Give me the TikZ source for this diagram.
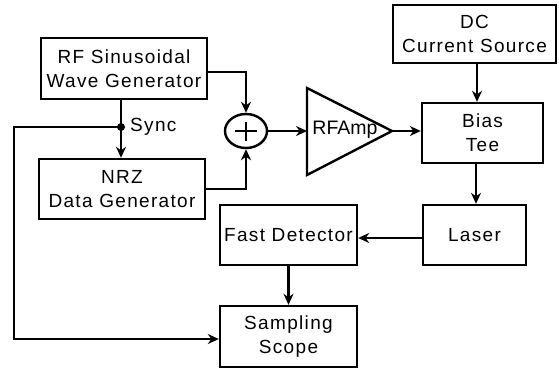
\documentclass[tikz,border=0pt]{standalone}
\usepackage{fontspec}
\setmainfont{Liberation Sans}
\newfontfamily\labfont[LetterSpace=7]{Liberation Sans}
\usetikzlibrary{arrows.meta,calc,shapes.geometric}
\tikzset{
  box/.style={draw, line width=2.4pt, rectangle, inner sep=0pt, align=center,
    font=\labfont\fontsize{19}{24}\selectfont},
  wire/.style={line width=2.3pt},
  arr/.style={wire, -{Stealth[length=11pt,width=10pt]}},
}
\begin{document}
\begin{tikzpicture}[x=1pt,y=-1pt]
\useasboundingbox (0,0) rectangle (559,368);
\node[box, minimum width=166pt, minimum height=61pt] (RF) at (124,68.5) {RF Sinusoidal\\Wave Generator};
\node[box, minimum width=166pt, minimum height=60pt] (NRZ) at (122,189) {NRZ\\Data Generator};
\node[box, minimum width=163pt, minimum height=58pt] (DC) at (474.5,34) {DC\\Current Source};
\node[box, minimum width=121pt, minimum height=60pt] (Bias) at (482.5,133) {Bias\\Tee};
\node[box, minimum width=103pt, minimum height=60pt] (Laser) at (474.5,235) {Laser};
\node[box, minimum width=137pt, minimum height=60pt] (FD) at (288.5,235) {Fast Detector};
\node[box, minimum width=137pt, minimum height=61pt] (SS) at (288.5,336.5) {Sampling\\Scope};
\node[draw, line width=2.4pt, ellipse, minimum width=42pt, minimum height=34pt, inner sep=0pt] (sum) at (246,131) {};
\draw[wire] ($(sum.center)+(-11,0)$) -- ($(sum.center)+(11,0)$);
\draw[wire] ($(sum.center)+(0,-9.5)$) -- ($(sum.center)+(0,9.5)$);
% amplifier
\coordinate (ampin) at (307,131);
\coordinate (ampout) at (392,131);
\draw[wire, line width=2.4pt, line join=miter] (307,88) -- (ampout) -- (307,175) -- cycle;
\node[font=\fontsize{19.5}{24}\selectfont, inner sep=0pt] (amplabel) at (345,130) {RFAmp};
% sync
\coordinate (sync) at (121,127);
\coordinate (leftc) at (14,127);
\fill (sync) circle (4pt);
\node[font=\labfont\fontsize{19}{24}\selectfont, anchor=west, inner sep=0pt] (synclabel) at (130,127) {Sync};
% connectors
\draw[arr] ($(RF.east)+(0,3.5)$) -| (sum.north);
\draw[arr] (NRZ.east) -| (sum.south);
\draw[wire] (RF.south -| sync) -- (sync);
\draw[arr] (sync) -- (NRZ.north -| sync);
\draw[arr] (sync) -- (leftc) |- ($(SS.west)+(0,2.5)$);
\draw[arr] (sum.east) -- (ampin);
\draw[arr] (ampout) -- (ampout -| Bias.west);
\draw[arr] (DC.south -| 477,0) -- (Bias.north -| 477,0);
\draw[arr] (Bias.south -| 476,0) -- (Laser.north -| 476,0);
\draw[arr] ($(Laser.west)+(0,3)$) -- ($(FD.east)+(0,3)$);
\draw[arr] (FD.south) -- (SS.north);
\end{tikzpicture}
\end{document}
